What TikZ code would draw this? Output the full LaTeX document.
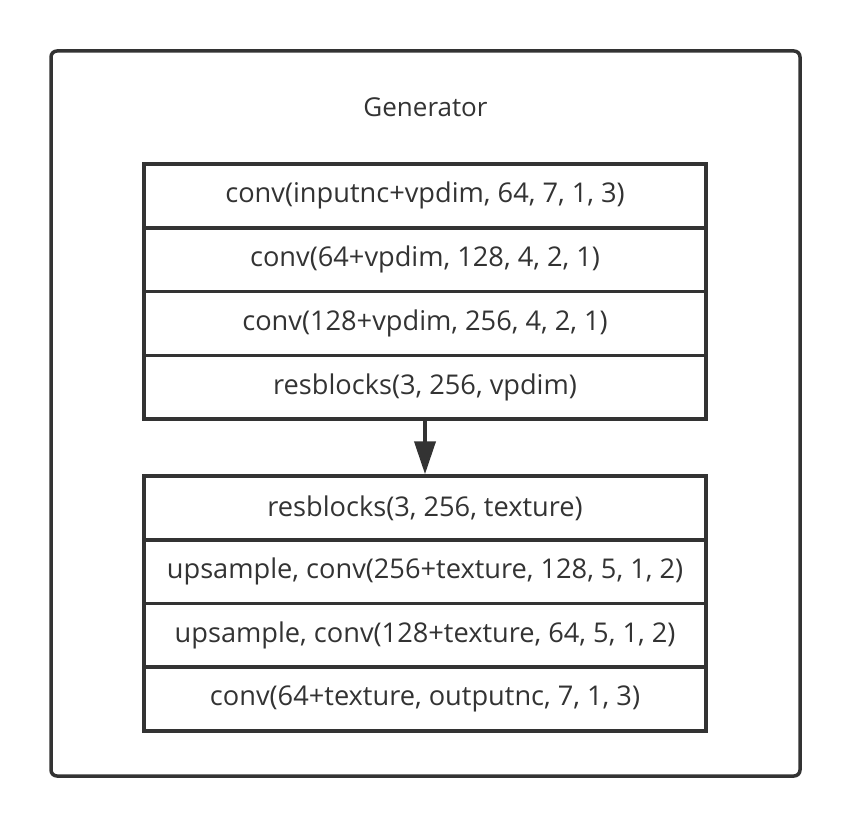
\documentclass[tikz,border=0pt]{standalone}
\usepackage{fontspec}
\setmainfont{Open Sans}
\usetikzlibrary{arrows.meta}
\definecolor{ink}{HTML}{333333}
\begin{document}
\begin{tikzpicture}[x=1pt,y=-1pt,
  layer/.style={draw=ink, line width=3.5pt, minimum width=562pt, minimum height=63.75pt, inner sep=0pt, text=ink, font=\fontsize{27.2}{30}\selectfont, anchor=center},
  outerbox/.style={draw=ink, line width=3.5pt, rounded corners=6pt, minimum width=749pt, minimum height=725pt, inner sep=0pt},
  title/.style={text=ink, font=\fontsize{26}{30}\selectfont, inner sep=0pt}]
\useasboundingbox (0,0) rectangle (848,826);
\node[outerbox] (gen) at (425.5,413.5) {};
\node[title] (gtitle) at (425.5,107) {Generator};
\node[layer] (g1) at (425,195.9) {conv(inputnc+vpdim, 64, 7, 1, 3)};
\node[layer] (g2) at (425,259.7) {conv(64+vpdim, 128, 4, 2, 1)};
\node[layer] (g3) at (425,323.5) {conv(128+vpdim, 256, 4, 2, 1)};
\node[layer] (g4) at (425,387.3) {resblocks(3, 256, vpdim)};
\node[layer] (h1) at (425,507.9) {resblocks(3, 256, texture)};
\node[layer] (h2) at (425,571.6) {upsample, conv(256+texture, 128, 5, 1, 2)};
\node[layer] (h3) at (425,635.4) {upsample, conv(128+texture, 64, 5, 1, 2)};
\node[layer] (h4) at (425,699.1) {conv(64+texture, outputnc, 7, 1, 3)};
\draw[draw=ink, line width=4pt, -{Triangle[length=33pt,width=21pt]}] (g4.south) -- (h1.north);
\end{tikzpicture}
\end{document}
